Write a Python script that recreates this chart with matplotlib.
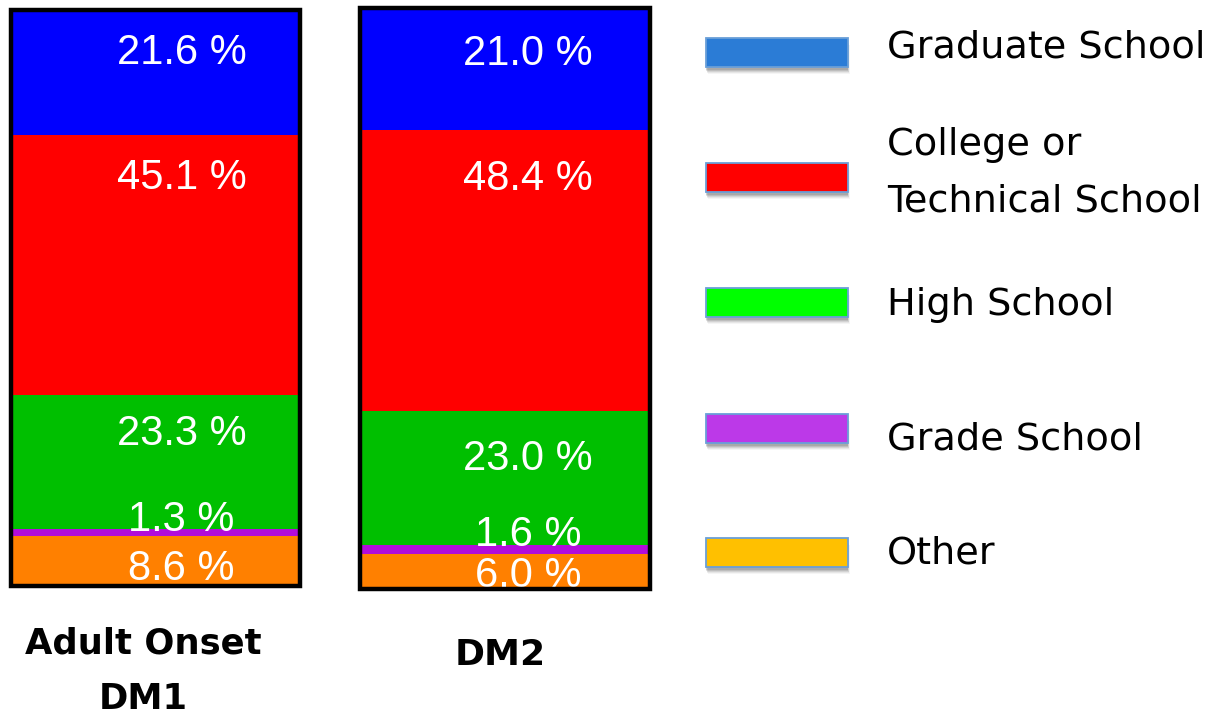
import matplotlib
matplotlib.use("Agg")
import matplotlib.pyplot as plt
from matplotlib.patches import Rectangle

# --- data -------------------------------------------------------------
groups = ["Adult Onset\nDM1", "DM2"]
categories = ["Other", "Grade School", "High School",
              "College or\nTechnical School", "Graduate School"]
dm1_values = [8.6, 1.3, 23.3, 45.1, 21.6]   # bottom -> top
dm2_values = [6.0, 1.6, 23.0, 48.4, 21.0]
value_labels_dm1 = ["8.6 %", "1.3 %", "23.3 %", "45.1 %", "21.6 %"]
value_labels_dm2 = ["6.0 %", "1.6 %", "23.0 %", "48.4 %", "21.0 %"]

bar_colors = ["#FF8000", "#B20CDB", "#00BF00", "#FF0000", "#0000FF"]
legend_colors = ["#FFC000", "#BC39E8", "#00FF00", "#FF0000", "#2B7CD6"]

W, H, DPI = 1215, 714, 100
fig = plt.figure(figsize=(W / DPI, H / DPI), dpi=DPI)
fig.patch.set_facecolor("white")


def px_axes(x0, y0, x1, y1):
    """Axes placed by pixel box (top-left origin)."""
    return fig.add_axes([x0 / W, 1 - y1 / H, (x1 - x0) / W, (y1 - y0) / H])


LABEL_FONT = ["Liberation Sans", "DejaVu Sans"]


def stacked_bar(ax, values, labels, text_dx, text_dy):
    total = sum(values)
    bottom = 0.0
    for v, c, lab, dy in zip(values, bar_colors, labels, text_dy):
        ax.bar(0.5, v, width=1.0, bottom=bottom, color=c, linewidth=0)
        ax.annotate(lab, xy=(0.5, bottom + v), xytext=(text_dx, -dy),
                    textcoords="offset pixels", ha="center", va="baseline",
                    color="white", fontsize=30, family=LABEL_FONT)
        bottom += v
    ax.set_xlim(0, 1)
    ax.set_ylim(0, total)
    ax.set_axis_off()
    ax.add_patch(Rectangle((0, 0), 1, 1, transform=ax.transAxes, fill=False,
                           edgecolor="black", linewidth=3.2, clip_on=False,
                           zorder=5))


# bars (baseline offsets measured downward from each segment top)
ax1 = px_axes(11, 10, 300, 586)
stacked_bar(ax1, dm1_values, value_labels_dm1, 26, [44, 2, 50, 54, 54])
ax2 = px_axes(360, 8, 650, 589)
stacked_bar(ax2, dm2_values, value_labels_dm2, 23, [33, 1, 59, 60, 57])

# overlay in pixel units for legend and group names
ov = fig.add_axes([0, 0, 1, 1])
ov.set_xlim(0, W)
ov.set_ylim(H, 0)
ov.set_axis_off()

TEXT_FONT = ["DejaVu Sans"]
ov.text(143, 643, "Adult Onset", ha="center", va="center", fontsize=25.5,
        fontweight="bold", family=TEXT_FONT)
ov.text(143, 699, "DM1", ha="center", va="center", fontsize=25.5,
        fontweight="bold", family=TEXT_FONT)
ov.text(500, 655, "DM2", ha="center", va="center", fontsize=26,
        fontweight="bold", family=TEXT_FONT)

patch_centers = [552, 428, 302, 177, 52]
text_rows = [[(553, "Other")], [(440, "Grade School")], [(305, "High School")],
             [(145, "College or"), (201, "Technical School")],
             [(48, "Graduate School")]]
pw, ph = 142, 29
for c, yc, rows in zip(legend_colors, patch_centers, text_rows):
    x0, y0 = 706, yc - ph / 2
    # soft drop shadow
    for dx, dy, a in [(2, 7, 0.04), (1, 6, 0.06), (1, 5, 0.08),
                      (0, 4, 0.10), (0, 3, 0.10)]:
        ov.add_patch(Rectangle((x0 + dx, y0 + dy), pw, ph, facecolor="black",
                               edgecolor="none", alpha=a, zorder=1))
    ov.add_patch(Rectangle((x0, y0), pw, ph, facecolor=c,
                           edgecolor="#6A9FD8", linewidth=1.3, zorder=2))
    for ty, txt in rows:
        ov.text(887, ty, txt, ha="left", va="center", fontsize=27.5,
                family=TEXT_FONT, color="black")

fig.savefig("out.png", dpi=DPI, facecolor="white")
